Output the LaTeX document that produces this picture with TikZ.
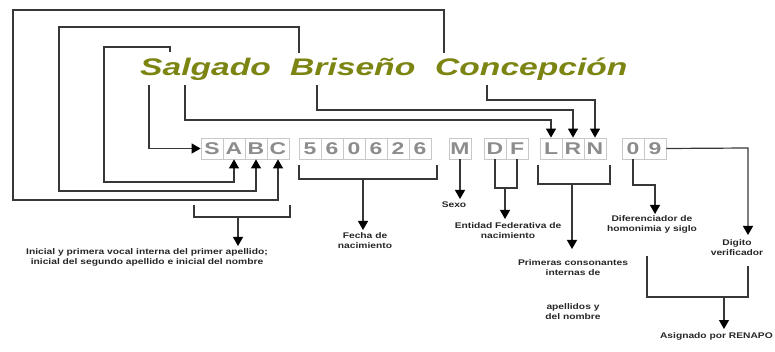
\documentclass[tikz,border=0pt]{standalone}
\usepackage{fontspec}
\setmainfont{Liberation Sans}
\newfontfamily\namefont[FakeStretch=1.4]{Liberation Sans}
\newfontfamily\cellfont[FakeStretch=1.35]{Liberation Sans}
\newfontfamily\lblfont[FakeStretch=1.25]{Liberation Sans}
\usepackage{tikz}
\usetikzlibrary{arrows.meta,positioning}
\definecolor{namegreen}{RGB}{124,132,18}
\definecolor{cellgray}{RGB}{140,140,140}
\definecolor{framegray}{RGB}{200,200,200}
\definecolor{linegray}{RGB}{55,55,55}
\tikzset{cell/.style={draw=framegray,line width=0.8pt,minimum width=22pt,minimum height=21pt,inner sep=0pt,text=cellgray,font=\cellfont\bfseries\fontsize{17}{17}\selectfont},
  word/.style={inner sep=0pt,text=namegreen,font=\namefont\bfseries\itshape\fontsize{24}{24}\selectfont},
  lbl/.style={align=center,inner sep=0pt,text=black!85,font=\lblfont\bfseries\fontsize{8.2}{10.5}\selectfont},
  link/.style={draw=linegray,line width=1.2pt},
  arr/.style={link,-{Triangle[width=10pt,length=9pt,black]}}}
\begin{document}
\begin{tikzpicture}[x=1pt,y=-1pt]
    \useasboundingbox (0,0) rectangle (775,352);

    % the name
    \node[word,anchor=base west] (ap1) at (140,76) {Salgado};
    \node[word,anchor=base west] (ap2) at (290,76) {Briseño};
    \node[word,anchor=base west] (nom) at (435,76) {Concepción};

    % the code
    \foreach \ch [count=\i] in {S,A,B,C}
        \node[cell] (s\i) at (190+22*\i,148.5) {\ch};
    \foreach \ch [count=\i] in {5,6,0,6,2,6}
        \node[cell] (f\i) at (288+22*\i,148.5) {\ch};
    \node[cell] (sx) at (460,148.5) {M};
    \foreach \ch [count=\i] in {D,F}
        \node[cell] (e\i) at (473+22*\i,148.5) {\ch};
    \foreach \ch [count=\i] in {L,R,N}
        \node[cell] (k\i) at (529+22*\i,148.5) {\ch};
    \foreach \ch [count=\i] in {0,9}
        \node[cell] (h\i) at (611+22*\i,148.5) {\ch};

    % ends of the lines at the name
    \coordinate (tA) at (170,52);
    \coordinate (tB) at (299,53);
    \coordinate (tC) at (444,53);
    \coordinate (uS) at (149,85);
    \coordinate (uL) at (185,85);
    \coordinate (uR) at (317,85);
    \coordinate (uN) at (487,85);

    \draw[arr] (tC) |- (13,10) -- (13,200) -| (s4.south);
    \draw[arr] (tB) |- (59,27) -- (59,191) -| (s3.south);
    \draw[arr] (tA) |- (104,47) -- (104,182) -| (s2.south);
    \draw[arr] (uS) |- (s1.west);
    \draw[arr] (uL) -- ++(0,35) -| (k1.north);
    \draw[arr] (uR) -- ++(0,25) -| (k2.north);
    \draw[arr] (uN) -- ++(0,15) -| (k3.north);

    % labels
    \node[lbl,anchor=north] (t1) at (147,248) {Inicial y primera vocal interna del primer apellido;\\inicial del segundo apellido e inicial del nombre};
    \node[lbl,anchor=north] (t2) at (365,232) {Fecha de\\nacimiento};
    \node[lbl,anchor=north] (t3) at (454,202) {Sexo};
    \node[lbl,anchor=north] (t4) at (508,222) {Entidad Federativa de\\nacimiento};
    \node[lbl,anchor=north] (t5) at (573,259) {Primeras consonantes\\internas de};
    \node[lbl,anchor=north] (t5b) at (573,303) {apellidos y\\del nombre};
    \node[lbl,anchor=north] (t6) at (652,215) {Diferenciador de\\homonimia y siglo};
    \node[lbl,anchor=north] (t7) at (737,239) {Digito\\verificador};
    \node[lbl,anchor=north east] (t8) at (773,332) {Asignado por RENAPO};

    % brackets under the code
    \coordinate (m1) at (238,217);
    \coordinate (m2) at (363,179);
    \coordinate (m4) at (505,188);
    \coordinate (m5) at (572,184);
    \coordinate (m6) at (655,185);
    \coordinate (m7) at (748,148);
    \coordinate (m8) at (724,297);

    \draw[link] (194,205) |- (290,217) -- (290,205);
    \draw[arr,shorten >=2pt] (m1) -- (m1 |- t1.north);
    \draw[link] (299,165) |- (437,179) -- (437,165);
    \draw[arr,shorten >=2pt] (m2) -- (m2 |- t2.north);
    \draw[arr,shorten >=3pt] (sx.south) -- (sx.south |- t3.north);
    \draw[link] (e1.south) |- (e2.south |- m4) -- (e2.south);
    \draw[arr,shorten >=3pt] (m4) -- (m4 |- t4.north);
    \draw[link] (538,165) |- (610,184) -- (610,165);
    \draw[arr,shorten >=10pt] (m5) -- (m5 |- t5.north);
    \draw[arr,shorten >=1pt] (h1.south) |- (m6) -- (m6 |- t6.north);
    \draw[arr,shorten >=4pt] (h2.east) -- (m7) -- (m7 |- t7.north);
    \draw[link] (647,256) |- (748,297) -- (748,266);
    \draw[arr,shorten >=3pt] (m8) -- (m8 |- t8.north);
\end{tikzpicture}
\end{document}
